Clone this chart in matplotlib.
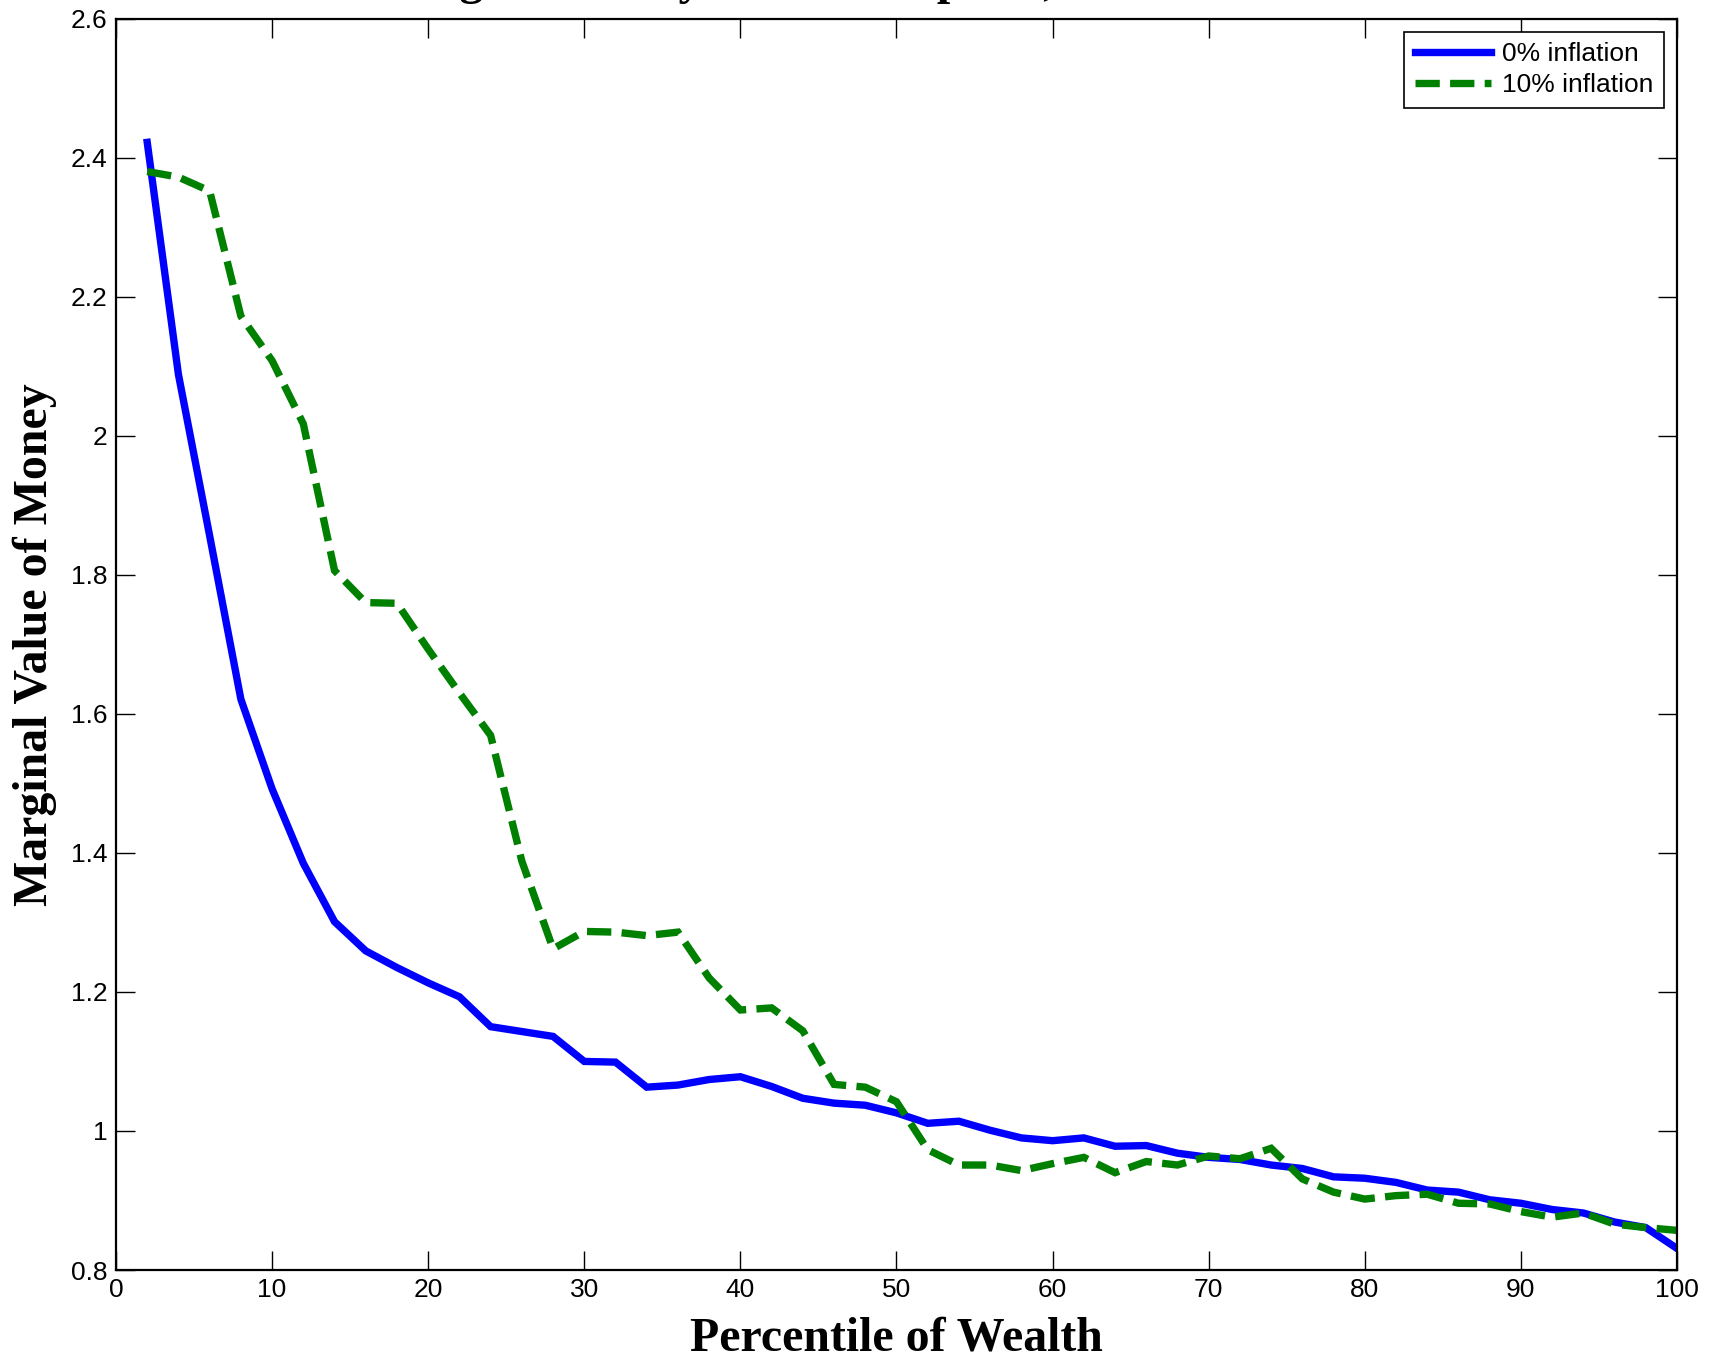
import numpy as np
import matplotlib
matplotlib.use("Agg")
import matplotlib.pyplot as plt
from matplotlib.ticker import FuncFormatter

percentile = list(range(2, 101, 2))

infl_0 = [2.422, 2.088, 1.856, 1.621, 1.492, 1.385, 1.301, 1.259, 1.235, 1.213,
          1.193, 1.150, 1.143, 1.136, 1.100, 1.099, 1.063, 1.066, 1.074, 1.078,
          1.064, 1.047, 1.040, 1.037, 1.026, 1.011, 1.014, 1.001, 0.990, 0.986,
          0.990, 0.978, 0.979, 0.968, 0.962, 0.959, 0.951, 0.946, 0.934, 0.932,
          0.926, 0.915, 0.912, 0.901, 0.896, 0.887, 0.882, 0.869, 0.861, 0.831]

infl_10 = [2.380, 2.372, 2.352, 2.172, 2.108, 2.017, 1.806, 1.760, 1.759, 1.693,
           1.630, 1.569, 1.388, 1.262, 1.287, 1.286, 1.281, 1.286, 1.220, 1.174,
           1.177, 1.144, 1.067, 1.063, 1.042, 0.973, 0.951, 0.951, 0.943, 0.953,
           0.962, 0.940, 0.956, 0.951, 0.964, 0.960, 0.975, 0.931, 0.912, 0.902,
           0.907, 0.909, 0.896, 0.895, 0.884, 0.876, 0.882, 0.866, 0.861, 0.857]

series_labels = ["0% inflation", "10% inflation"]
xticks = list(range(0, 101, 10))
yticks = [0.8, 1.0, 1.2, 1.4, 1.6, 1.8, 2.0, 2.2, 2.4, 2.6]
title_text = "Marginal Utility of Consumption, Relative to Mean"
xlabel_text = "Percentile of Wealth"
ylabel_text = "Marginal Value of Money"

W, H = 1715, 1359
fig = plt.figure(figsize=(W / 100, H / 100), dpi=100)
ax = fig.add_axes([116 / W, 1 - 1270 / H, (1677 - 116) / W, (1270 - 18.6) / H])

ax.plot(percentile, infl_0, color=(0, 0, 1), lw=5.3, label=series_labels[0],
        solid_joinstyle="miter")
ax.plot(percentile, infl_10, color=(0, 0.5, 0), lw=5.3, label=series_labels[1],
        linestyle=(0, (3.3, 1.4)), dash_capstyle="butt", dash_joinstyle="miter")

ax.set_xlim(0, 100)
ax.set_ylim(0.8, 2.6)
ax.set_xticks(xticks)
ax.set_yticks(yticks)
ax.yaxis.set_major_formatter(FuncFormatter(lambda v, p: "%g" % round(v, 2)))

tick_font = "Liberation Sans"
for lbl in ax.get_xticklabels() + ax.get_yticklabels():
    lbl.set_family(tick_font)
ax.tick_params(direction="in", length=14, width=1.0, top=True, right=True,
               labelsize=19, pad=6)
for s in ax.spines.values():
    s.set_linewidth(1.6)

ax.set_xlabel(xlabel_text, family="Liberation Serif", fontweight="bold",
              fontsize=34.5, labelpad=10)
ax.set_ylabel(ylabel_text, family="Liberation Serif", fontweight="bold",
              fontsize=34.5, labelpad=10)

leg = ax.legend(loc="upper right", prop={"family": tick_font, "size": 19},
                handlelength=2.9, fancybox=False, framealpha=1,
                edgecolor="black", borderaxespad=0.5, handletextpad=0.4,
                borderpad=0.4, labelspacing=0.25)
leg.get_frame().set_linewidth(1.2)

fig.text(369 / W, 1 + 5.6 / H, title_text, family="Liberation Serif",
         fontweight="bold", fontsize=34.5, ha="left", va="baseline")

fig.savefig("out.png", dpi=100)
